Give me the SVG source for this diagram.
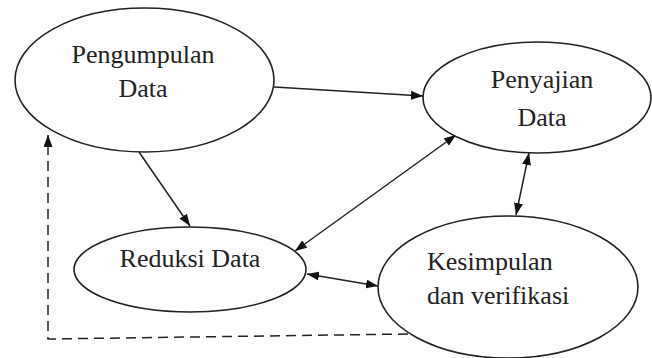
<svg xmlns="http://www.w3.org/2000/svg" width="652" height="358" viewBox="0 0 652 358">
<style>
.node ellipse{fill:#fff;stroke:#222;stroke-width:1.6}
.edge{fill:none;stroke:#222;stroke-width:1.5}
.dash{stroke-dasharray:10 6}
</style>
<defs>
<marker id="ah" viewBox="0 0 12 9" refX="12" refY="4.5" markerWidth="12" markerHeight="9" markerUnits="userSpaceOnUse" orient="auto-start-reverse">
<path d="M0,0 L12,4.5 L0,9 z" fill="#111"/>
</marker>
</defs>
<rect width="652" height="358" fill="#fff"/>
<g id="connectors">
<path class="edge" d="M274,87 L423,96" marker-end="url(#ah)"/>
<path class="edge" d="M139,152 L190,226" marker-end="url(#ah)"/>
<path class="edge" d="M295,251 L456,135" marker-start="url(#ah)" marker-end="url(#ah)"/>
<path class="edge" d="M529,153 L516,215" marker-start="url(#ah)" marker-end="url(#ah)"/>
<path class="edge" d="M307,274 L378,286" marker-start="url(#ah)" marker-end="url(#ah)"/>
<path class="edge dash" d="M408,334 L48,339 L48,135" marker-end="url(#ah)"/>
</g>
<g font-family="Liberation Serif, Times New Roman, DejaVu Serif, serif" font-size="26" fill="#222">
<g id="pengumpulan" class="node">
<ellipse cx="144.5" cy="80" rx="129.5" ry="72"/>
<text x="143" y="63" text-anchor="middle">Pengumpulan</text>
<text x="143" y="97" text-anchor="middle">Data</text>
</g>
<g id="penyajian" class="node">
<ellipse cx="537" cy="97.5" rx="114" ry="55.5"/>
<text x="542" y="88" text-anchor="middle">Penyajian</text>
<text x="542" y="126" text-anchor="middle">Data</text>
</g>
<g id="reduksi" class="node">
<ellipse cx="190" cy="269.5" rx="116" ry="42.5"/>
<text x="190" y="267" text-anchor="middle">Reduksi Data</text>
</g>
<g id="kesimpulan" class="node">
<ellipse cx="508" cy="287" rx="130" ry="71"/>
<text x="427" y="270">Kesimpulan</text>
<text x="427" y="304">dan verifikasi</text>
</g>
</g>
</svg>
